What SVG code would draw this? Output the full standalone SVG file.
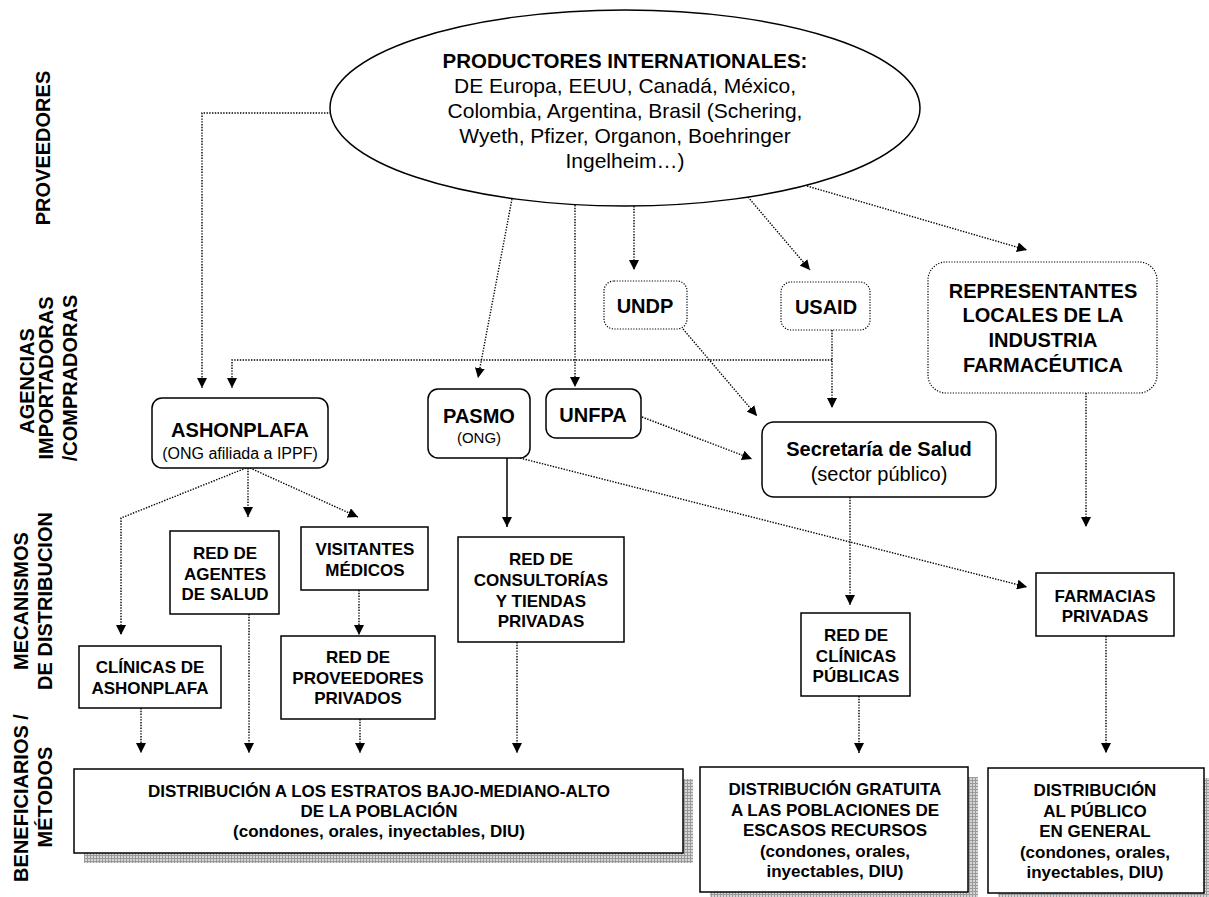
<svg xmlns="http://www.w3.org/2000/svg" width="1209" height="897" viewBox="0 0 1209 897">
<style>
text{font-family:"Liberation Sans",Arial,sans-serif;fill:#000}
.b{font-weight:bold}
.c{text-anchor:middle}
.lab{font-size:20px;font-weight:bold;text-anchor:middle}
.box{fill:#fff;stroke:#000;stroke-width:1.5}
.dbox{fill:#fff;stroke:#000;stroke-width:1.2;stroke-dasharray:1.2 1.5}
.dot{fill:none;stroke:#000;stroke-width:1.4;stroke-dasharray:1.4 1.4}
.sol{fill:none;stroke:#000;stroke-width:1.5}
.m17{font-size:17px;font-weight:bold;text-anchor:middle}
.n20{font-size:20px;font-weight:bold;text-anchor:middle}
</style>
<defs>
<marker id="ah" viewBox="0 0 10 10" refX="10" refY="5" markerWidth="10" markerHeight="10" markerUnits="userSpaceOnUse" orient="auto"><path d="M0,0 L10,5 L0,10 z" fill="#000" stroke="none"/></marker>
<pattern id="grid" width="3" height="3" patternUnits="userSpaceOnUse"><rect width="3" height="3" fill="#d6d6d6"/><path d="M0,0.5 H3 M0.5,0 V3" stroke="#9a9a9a" stroke-width="1"/></pattern>
</defs>

<g id="labels">
<text class="lab" transform="translate(50,148) rotate(-90)">PROVEEDORES</text>
<text class="lab" transform="translate(34,381) rotate(-90)">AGENCIAS</text>
<text class="lab" transform="translate(53,378) rotate(-90)">IMPORTADORAS</text>
<text class="lab" transform="translate(77,378) rotate(-90)">/COMPRADORAS</text>
<text class="lab" transform="translate(28,601) rotate(-90)">MECANISMOS</text>
<text class="lab" transform="translate(52,601) rotate(-90)">DE DISTRIBUCION</text>
<text class="lab" transform="translate(28,798) rotate(-90)">BENEFICIARIOS /</text>
<text class="lab" transform="translate(52,797) rotate(-90)">MÉTODOS</text>
</g>

<g id="connectors">
<path class="dot" d="M331,113 H202 V388" marker-end="url(#ah)"/>
<path class="dot" d="M512,199 L478,378" marker-end="url(#ah)"/>
<path class="dot" d="M575,205 V387" marker-end="url(#ah)"/>
<path class="dot" d="M634,206 V270" marker-end="url(#ah)"/>
<path class="dot" d="M748,197 L810,270" marker-end="url(#ah)"/>
<path class="dot" d="M807,186 L1027,250" marker-end="url(#ah)"/>
<path class="dot" d="M832,330 V408" marker-end="url(#ah)"/>
<path class="dot" d="M832,360 H232 V388" marker-end="url(#ah)"/>
<path class="dot" d="M683,329 L757,416" marker-end="url(#ah)"/>
<path class="dot" d="M642,417 L752,459" marker-end="url(#ah)"/>
<path class="sol" d="M507,458 V527" marker-end="url(#ah)"/>
<path class="dot" d="M512,456 L1027,587" marker-end="url(#ah)"/>
<path class="dot" d="M248,468 V517" marker-end="url(#ah)"/>
<path class="dot" d="M250,468 L358,517" marker-end="url(#ah)"/>
<path class="dot" d="M246,468 L121,518 V635" marker-end="url(#ah)"/>
<path class="dot" d="M359,590 V635" marker-end="url(#ah)"/>
<path class="dot" d="M141,708 V753" marker-end="url(#ah)"/>
<path class="dot" d="M249,614 V753" marker-end="url(#ah)"/>
<path class="dot" d="M360,719 V753" marker-end="url(#ah)"/>
<path class="dot" d="M517,642 V753" marker-end="url(#ah)"/>
<path class="dot" d="M850,497 V605" marker-end="url(#ah)"/>
<path class="dot" d="M859,696 V753" marker-end="url(#ah)"/>
<path class="dot" d="M1086,393 V527" marker-end="url(#ah)"/>
<path class="dot" d="M1106,636 V753" marker-end="url(#ah)"/>
</g>

<g id="productores">
<ellipse cx="625" cy="108" rx="295" ry="98" fill="#fff" stroke="#000" stroke-width="1.5"/>
<text class="b c" x="625" y="68" font-size="20.5">PRODUCTORES INTERNATIONALES:</text>
<text class="c" x="625" y="93" font-size="21">DE Europa, EEUU, Canadá, México,</text>
<text class="c" x="625" y="118" font-size="21">Colombia, Argentina, Brasil (Schering,</text>
<text class="c" x="625" y="143" font-size="21">Wyeth, Pfizer, Organon, Boehringer</text>
<text class="c" x="625" y="168" font-size="21">Ingelheim…)</text>
</g>

<g id="ashonplafa">
<rect class="box" x="152" y="398" width="176" height="70" rx="10"/>
<text class="n20" x="240" y="437">ASHONPLAFA</text>
<text class="c" x="240" y="459" font-size="16">(ONG afiliada a IPPF)</text>
</g>
<g id="pasmo">
<rect class="box" x="428" y="389" width="102" height="69" rx="10"/>
<text class="n20" x="479" y="423">PASMO</text>
<text class="c" x="479" y="443" font-size="15">(ONG)</text>
</g>
<g id="unfpa">
<rect class="box" x="546" y="389" width="95" height="49" rx="10"/>
<text class="n20" x="593" y="422">UNFPA</text>
</g>
<g id="undp">
<rect class="dbox" x="604" y="281" width="83" height="48" rx="10"/>
<text class="n20" x="645" y="313">UNDP</text>
</g>
<g id="usaid">
<rect class="dbox" x="781" y="282" width="89" height="48" rx="10"/>
<text class="n20" x="826" y="314">USAID</text>
</g>
<g id="representantes">
<rect class="dbox" x="928" y="262" width="229" height="131" rx="18"/>
<text class="n20" x="1043" y="298">REPRESENTANTES</text>
<text class="n20" x="1043" y="322">LOCALES DE LA</text>
<text class="n20" x="1043" y="347">INDUSTRIA</text>
<text class="n20" x="1043" y="372">FARMACÉUTICA</text>
</g>
<g id="secretaria">
<rect class="box" x="762" y="422" width="234" height="75" rx="12"/>
<text class="n20" x="879" y="456">Secretaría de Salud</text>
<text class="c" x="879" y="481" font-size="20">(sector público)</text>
</g>

<g id="agentes">
<rect class="box" x="170" y="531" width="109" height="83"/>
<text class="m17" x="225" y="559">RED DE</text>
<text class="m17" x="225" y="580">AGENTES</text>
<text class="m17" x="225" y="600">DE SALUD</text>
</g>
<g id="visitantes">
<rect class="box" x="301" y="527" width="127" height="63"/>
<text class="m17" x="365" y="555">VISITANTES</text>
<text class="m17" x="365" y="576">MÉDICOS</text>
</g>
<g id="clinicas-ashonplafa">
<rect class="box" x="79" y="646" width="142" height="62"/>
<text class="m17" x="150" y="673">CLÍNICAS DE</text>
<text class="m17" x="150" y="694">ASHONPLAFA</text>
</g>
<g id="proveedores-privados">
<rect class="box" x="281" y="636" width="154" height="83"/>
<text class="m17" x="358" y="663">RED DE</text>
<text class="m17" x="358" y="684">PROVEEDORES</text>
<text class="m17" x="358" y="704">PRIVADOS</text>
</g>
<g id="consultorias">
<rect class="box" x="458" y="537" width="166" height="105"/>
<text class="m17" x="541" y="565">RED DE</text>
<text class="m17" x="541" y="586">CONSULTORÍAS</text>
<text class="m17" x="541" y="607">Y TIENDAS</text>
<text class="m17" x="541" y="627">PRIVADAS</text>
</g>
<g id="clinicas-publicas">
<rect class="box" x="801" y="613" width="109" height="83"/>
<text class="m17" x="856" y="641">RED DE</text>
<text class="m17" x="856" y="662">CLÍNICAS</text>
<text class="m17" x="856" y="682">PÚBLICAS</text>
</g>
<g id="farmacias">
<rect class="box" x="1036" y="573" width="138" height="63"/>
<text class="m17" x="1105" y="602">FARMACIAS</text>
<text class="m17" x="1105" y="622">PRIVADAS</text>
</g>

<g id="dist-estratos">
<rect x="84" y="779" width="609" height="84" fill="url(#grid)"/>
<rect class="box" x="74" y="769" width="609" height="84"/>
<text class="m17" x="379" y="797">DISTRIBUCIÓN A LOS ESTRATOS BAJO-MEDIANO-ALTO</text>
<text class="m17" x="379" y="817">DE LA POBLACIÓN</text>
<text class="m17" x="379" y="837">(condones, orales, inyectables, DIU)</text>
</g>
<g id="dist-gratuita">
<rect x="710" y="777" width="268" height="125" fill="url(#grid)"/>
<rect class="box" x="700" y="767" width="268" height="125"/>
<text class="m17" x="835" y="795">DISTRIBUCIÓN GRATUITA</text>
<text class="m17" x="835" y="815.5">A LAS POBLACIONES DE</text>
<text class="m17" x="835" y="836">ESCASOS RECURSOS</text>
<text class="m17" x="835" y="856.5">(condones, orales,</text>
<text class="m17" x="835" y="877">inyectables, DIU)</text>
</g>
<g id="dist-publico">
<rect x="998" y="778" width="216" height="125" fill="url(#grid)"/>
<rect class="box" x="988" y="768" width="216" height="125"/>
<text class="m17" x="1095" y="796">DISTRIBUCIÓN</text>
<text class="m17" x="1095" y="817">AL PÚBLICO</text>
<text class="m17" x="1095" y="837">EN GENERAL</text>
<text class="m17" x="1095" y="858">(condones, orales,</text>
<text class="m17" x="1095" y="878">inyectables, DIU)</text>
</g>
</svg>
